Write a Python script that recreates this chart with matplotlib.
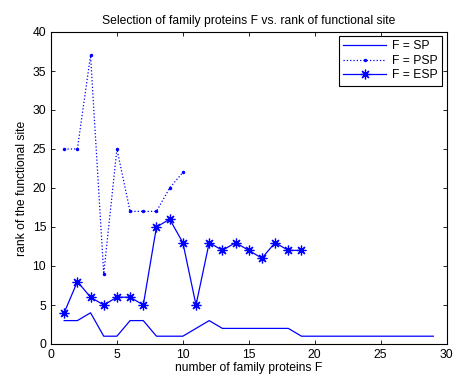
import matplotlib
matplotlib.use("Agg")
import matplotlib.pyplot as plt

plt.rcParams['font.family'] = ['Liberation Sans', 'DejaVu Sans']

sp_x = list(range(1, 30))
sp_y = [3, 3, 4, 1, 1, 3, 3, 1, 1, 1, 2, 3, 2, 2, 2, 2, 2, 2,
        1, 1, 1, 1, 1, 1, 1, 1, 1, 1, 1]
psp_x = list(range(1, 11))
psp_y = [25, 25, 37, 9, 25, 17, 17, 17, 20, 22]
esp_x = list(range(1, 20))
esp_y = [4, 8, 6, 5, 6, 6, 5, 15, 16, 13, 5, 13, 12, 13, 12, 11, 13, 12, 12]

xticks = [0, 5, 10, 15, 20, 25, 30]
yticks = [0, 5, 10, 15, 20, 25, 30, 35, 40]

fs = 8.7
fig = plt.figure(figsize=(4.54, 3.76), dpi=100)
ax = fig.add_axes([51/454, 1 - 344/376, (446.5 - 51)/454, (344 - 32)/376])

c = '#0000ff'
ax.plot(sp_x, sp_y, '-', color=c, lw=0.9, label='F = SP')
ax.plot(psp_x, psp_y, ':', color=c, lw=0.9, marker='.', markersize=3, label='F = PSP')
ax.plot(esp_x, esp_y, '-', color=c, lw=0.9, marker=(8, 2, 0), markersize=7,
        markeredgewidth=0.9, label='F = ESP')

ax.set_xlim(0, 30)
ax.set_ylim(0, 40)
ax.set_xticks(xticks)
ax.set_yticks(yticks)
ax.tick_params(direction='in', top=True, right=True, labelsize=fs, length=3, width=0.6)
for s in ax.spines.values():
    s.set_linewidth(0.8)

ax.set_title('Selection of family proteins F vs. rank of functional site', fontsize=fs, pad=6)
ax.set_xlabel('number of family proteins F', fontsize=fs, labelpad=1)
ax.set_ylabel('rank of the functional site', fontsize=fs, labelpad=3)

leg = ax.legend(loc='upper right', fontsize=fs, fancybox=False, framealpha=1,
                edgecolor='black', borderaxespad=0.35, handlelength=3.6,
                borderpad=0.35, labelspacing=0.2, handletextpad=0.5)
leg.get_frame().set_linewidth(0.8)

fig.savefig('out.png', dpi=100)
